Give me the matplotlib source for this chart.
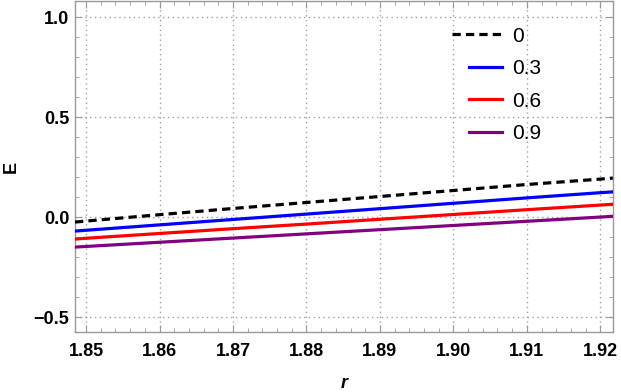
import matplotlib
matplotlib.use("Agg")
import matplotlib.pyplot as plt
from matplotlib.ticker import MultipleLocator
from matplotlib.legend_handler import HandlerLine2D
import numpy as np

plt.rcParams['font.family'] = ['Liberation Sans', 'DejaVu Sans']

# --- data ---
r_vals = [1.8485, 1.85, 1.86, 1.87, 1.88, 1.89, 1.90, 1.91, 1.92, 1.9217]
E_0 = [-0.025, -0.020, 0.012, 0.043, 0.073, 0.103, 0.133, 0.163, 0.190, 0.195]
E_03 = [-0.070, -0.066, -0.039, -0.012, 0.015, 0.042, 0.069, 0.096, 0.122, 0.126]
E_06 = [-0.110, -0.106, -0.082, -0.058, -0.035, -0.011, 0.013, 0.037, 0.060, 0.064]
E_09 = [-0.150, -0.147, -0.126, -0.105, -0.084, -0.063, -0.042, -0.021, 0.000, 0.004]
labels = ['0', '0.3', '0.6', '0.9']


class WideHandle(HandlerLine2D):
    # longer legend sample for the dashed curve (grows to the left)
    def create_artists(self, legend, orig_handle, xdescent, ydescent,
                       width, height, fontsize, trans):
        return super().create_artists(legend, orig_handle, xdescent + 12, ydescent,
                                      width + 14, height, fontsize, trans)


fig = plt.figure(figsize=(6.21, 3.92), dpi=100)
ax = fig.add_axes([0.1208, 0.153, 0.866, 0.844])

l0, = ax.plot(r_vals, E_0, color='black', lw=2.3, ls=(0, (2.6, 1.6)), label=labels[0], zorder=5)
ax.plot(r_vals, E_03, color='#0000ff', lw=2.3, label=labels[1], zorder=4)
ax.plot(r_vals, E_06, color='#ff0000', lw=2.3, label=labels[2], zorder=4)
ax.plot(r_vals, E_09, color='#800080', lw=2.3, label=labels[3], zorder=4)

ax.set_xlim(1.8485, 1.9217)
ax.set_ylim(-0.575, 1.08)

ax.set_xticks([1.85, 1.86, 1.87, 1.88, 1.89, 1.90, 1.91, 1.92])
ax.set_xticklabels(['1.85', '1.86', '1.87', '1.88', '1.89', '1.90', '1.91', '1.92'])
ax.set_yticks([-0.5, 0.0, 0.5, 1.0])
ax.set_yticklabels(['\u22120.5', '0.0', '0.5', '1.0'])
ax.xaxis.set_minor_locator(MultipleLocator(0.002))
ax.yaxis.set_minor_locator(MultipleLocator(0.1))

ax.tick_params(which='both', direction='in', top=True, right=True, color='#999999')
ax.tick_params(which='major', length=5, width=0.8, labelsize=13)
ax.tick_params(which='minor', length=3, width=0.6)
for t in ax.get_xticklabels() + ax.get_yticklabels():
    t.set_fontweight('bold')
ax.tick_params(axis='x', pad=8)
ax.tick_params(axis='y', pad=4)

for s in ax.spines.values():
    s.set_color('#999999')
    s.set_linewidth(1.0)

ax.grid(True, which='major', color='#a0a0a0', ls=(0, (1, 2.5)), lw=1.0)
ax.set_axisbelow(True)

ax.set_ylabel('E', fontsize=13, fontweight='bold', labelpad=10)
ax.set_xlabel('r', fontsize=13, fontweight='bold', style='italic', labelpad=11)

ax.legend(loc='upper left', bbox_to_anchor=(0.732, 0.923), frameon=False,
          borderpad=0, borderaxespad=0,
          fontsize=15, handlelength=1.6, labelspacing=0.65, handletextpad=0.5,
          handler_map={l0: WideHandle()})

fig.savefig('out.png', dpi=100)
